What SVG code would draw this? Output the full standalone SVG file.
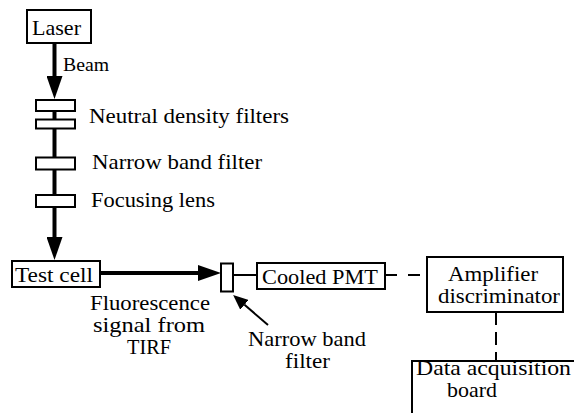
<svg xmlns="http://www.w3.org/2000/svg" width="574" height="413" viewBox="0 0 574 413">
<style>
text{font-family:"Liberation Serif","Times New Roman",Times,"Nimbus Roman","Noto Serif","DejaVu Serif",FreeSerif,serif;font-size:22px;fill:#000}
.ml{font-size:21px}
.box{fill:#fff;stroke:#000;stroke-width:2}
.beam{stroke:#000;stroke-width:4;fill:none}
.thin{stroke:#000;stroke-width:2;fill:none}
.dash{stroke:#000;stroke-width:2;fill:none;stroke-dasharray:12 11}
.vdash{stroke:#000;stroke-width:2;fill:none;stroke-dasharray:13 7}
</style>
<defs>
<marker id="head" markerUnits="userSpaceOnUse" markerWidth="23" markerHeight="16" refX="0" refY="8" orient="auto">
<path d="M0,0 L23,8 L0,16 z" fill="#000"/>
</marker>
<marker id="headS" markerUnits="userSpaceOnUse" markerWidth="15" markerHeight="13" refX="0" refY="6.5" orient="auto">
<path d="M0,0 L15,6.5 L0,13 z" fill="#000"/>
</marker>
</defs>
<g id="connectors">
<line class="beam" x1="54.5" y1="43" x2="54.5" y2="76" marker-end="url(#head)"/>
<line class="beam" x1="54.5" y1="111" x2="54.5" y2="195"/>
<line class="beam" x1="54.5" y1="207" x2="54.5" y2="237" marker-end="url(#head)"/>
<line class="beam" x1="100" y1="273" x2="198" y2="273" marker-end="url(#head)"/>
<line class="thin" x1="233" y1="275" x2="257" y2="275"/>
<line class="dash" x1="385" y1="275" x2="427" y2="275"/>
<line class="vdash" x1="496" y1="312" x2="496" y2="361"/>
<line class="thin" x1="268" y1="325" x2="244.5" y2="304.8" stroke-width="3" marker-end="url(#headS)"/>
</g>
<g id="laser">
<rect class="box" x="27" y="10" width="64" height="33"/>
<text x="32" y="35" textLength="49" lengthAdjust="spacingAndGlyphs">Laser</text>
</g>
<g id="beam-label">
<text x="63" y="71" style="font-size:19px" textLength="46" lengthAdjust="spacingAndGlyphs">Beam</text>
</g>
<g id="nd-filters">
<rect class="box" x="36" y="100" width="39" height="11"/>
<rect class="box" x="36" y="119.5" width="39" height="9"/>
<text x="89" y="123" textLength="200" lengthAdjust="spacingAndGlyphs">Neutral density filters</text>
</g>
<g id="narrow-band-filter-1">
<rect class="box" x="36" y="157.5" width="39" height="12"/>
<text x="92" y="169" textLength="170" lengthAdjust="spacingAndGlyphs">Narrow band filter</text>
</g>
<g id="focusing-lens">
<rect class="box" x="36" y="195" width="39" height="12"/>
<text x="91" y="207" textLength="124" lengthAdjust="spacingAndGlyphs">Focusing lens</text>
</g>
<g id="test-cell">
<rect class="box" x="12" y="261" width="88" height="26"/>
<text x="15" y="282" textLength="78" lengthAdjust="spacingAndGlyphs">Test cell</text>
</g>
<g id="fluorescence-label">
<text class="ml" x="90" y="310" textLength="120" lengthAdjust="spacingAndGlyphs">Fluorescence</text>
<text class="ml" x="93" y="332" textLength="112" lengthAdjust="spacingAndGlyphs">signal from</text>
<text class="ml" x="127" y="354" textLength="44" lengthAdjust="spacingAndGlyphs">TIRF</text>
</g>
<g id="narrow-band-filter-2">
<rect class="box" x="221" y="263.5" width="12" height="28"/>
<text class="ml" x="248" y="346" textLength="118" lengthAdjust="spacingAndGlyphs">Narrow band</text>
<text class="ml" x="285" y="368" textLength="45" lengthAdjust="spacingAndGlyphs">filter</text>
</g>
<g id="cooled-pmt">
<rect class="box" x="257" y="263" width="128" height="26"/>
<text x="262" y="284" textLength="116" lengthAdjust="spacingAndGlyphs">Cooled PMT</text>
</g>
<g id="amplifier">
<rect class="box" x="427" y="257" width="136" height="55"/>
<text class="ml" x="448" y="281" textLength="90" lengthAdjust="spacingAndGlyphs">Amplifier</text>
<text class="ml" x="438" y="303" textLength="122" lengthAdjust="spacingAndGlyphs">discriminator</text>
</g>
<g id="data-acquisition">
<rect class="box" x="412" y="361" width="200" height="100"/>
<text class="ml" x="416" y="375" textLength="155" lengthAdjust="spacingAndGlyphs">Data acquisition</text>
<text class="ml" x="447" y="397" textLength="50" lengthAdjust="spacingAndGlyphs">board</text>
</g>
</svg>
